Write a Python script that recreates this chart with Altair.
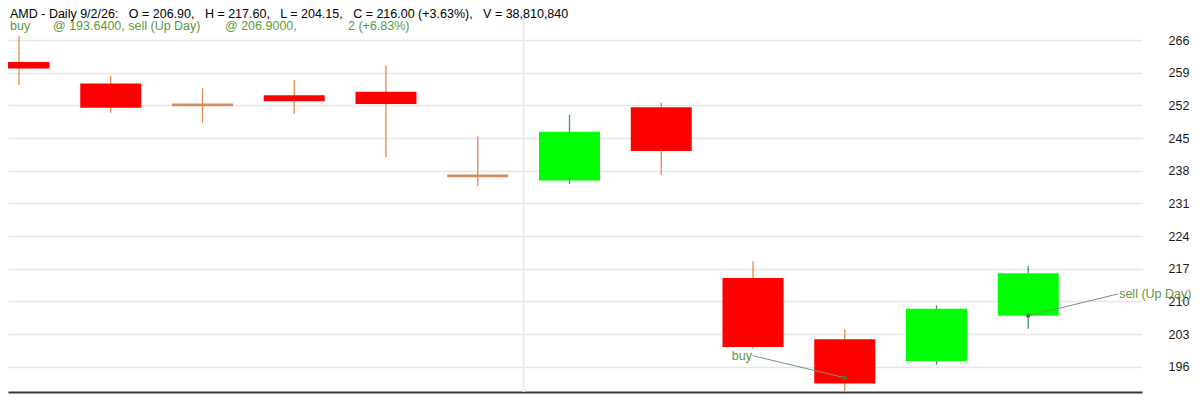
import altair as alt
import pandas as pd

# ---- data ----
days = [0, 1, 2, 3, 4, 5, 6, 7, 8, 9, 10, 11]
opens = [261.3, 256.7, 252.1, 254.15, 254.9, 236.9, 235.9, 251.6, 215.0, 201.9, 197.2, 206.9]
highs = [266.9, 258.4, 255.65, 257.4, 260.6, 245.3, 250.0, 252.6, 218.6, 204.0, 209.15, 217.6]
lows = [256.4, 250.4, 248.15, 250.2, 240.9, 234.7, 235.1, 237.1, 199.9, 190.6, 196.4, 204.15]
closes = [259.9, 251.5, 252.1, 252.9, 252.3, 236.9, 246.35, 242.2, 200.2, 192.4, 208.43, 216.0]

y_ticks = [196, 203, 210, 217, 224, 231, 238, 245, 252, 259, 266]

trade_kinds = ["buy", "sell"]
trade_labels = ["buy", "sell (Up Day)"]
trade_days = [9, 11]
trade_prices = [193.64, 206.9]

session_breaks = [6]

NB = "\u00a0"
gap = " " + NB + NB
header_line1 = ("AMD - Daily 9/2/26:" + gap + "O = 206.90," + gap + "H = 217.60," + gap +
                "L = 204.15," + gap + "C = 216.00 (+3.63%)," + gap + "V = 38,810,840")
header_pieces = ["buy", "@ 193.6400, sell (Up Day)", "@ 206.9000,", "2 (+6.83%)"]

# ---- tables ----
df = pd.DataFrame({"day": days, "open": opens, "high": highs, "low": lows, "close": closes})
trades = pd.DataFrame({"kind": trade_kinds, "label": trade_labels,
                       "day": trade_days, "price": trade_prices})
breaks = pd.DataFrame({"brk": session_breaks})
one = pd.DataFrame({"k": [0]})

FONT = "Liberation Sans"
xscale = alt.Scale(domain=[-0.1199, 12.2398], nice=False, zero=False)
yscale = alt.Scale(domain=[190.576, 272.857], nice=False, zero=False)
xaxis = alt.Axis(title=None, labels=False, ticks=False, grid=False, domain=True,
                 domainColor="#3a3a3a", domainWidth=2)
yaxis = alt.Axis(title=None, orient="right", values=y_ticks, ticks=False, domain=False,
                 grid=True, gridColor="#e6e6e6", gridWidth=1.5, labelPadding=26,
                 labelFontSize=12.5, labelColor="#1a1a1a", labelFont=FONT)


def X(f):
    return alt.X(f"{f}:Q", scale=xscale, axis=xaxis)


def X2(f):
    return alt.X2(f"{f}:Q")


def Y(f):
    return alt.Y(f"{f}:Q", scale=yscale, axis=yaxis)


def Y2(f):
    return alt.Y2(f"{f}:Q")


UP = "datum.close > datum.open"

base = alt.Chart(df).transform_calculate(
    xl="datum.day - 0.3324",
    xr="datum.day + 0.3324",
)

separator = alt.Chart(breaks).transform_calculate(sx="datum.brk - 0.5").mark_rule(
    color="#ececec", strokeWidth=2
).encode(x=X("sx"))

wicks = base.mark_rule(strokeWidth=1.3).encode(
    x=X("day"), y=Y("low"), y2=Y2("high"),
    color=alt.condition(UP, alt.value("#3c9c4c"), alt.value("#e8884a")),
)

bodies = base.transform_filter("datum.close != datum.open").mark_rect(clip=True).encode(
    x=X("xl"), x2=X2("xr"), y=Y("open"), y2=Y2("close"),
    color=alt.condition(UP, alt.value("#00ff00"), alt.value("#ff0000")),
)

dojis = base.transform_filter("datum.close == datum.open").mark_rule(
    color="#d98b5e", strokeWidth=2.7, clip=True
).encode(x=X("xl"), x2=X2("xr"), y=Y("open"))

tbase = alt.Chart(trades).transform_calculate(
    lx="datum.kind == 'buy' ? datum.day - 1.0 : datum.day + 0.98",
    ly="datum.price + 4.7",
)

trade_lines = tbase.mark_rule(color="#6f9a6f", strokeWidth=1).encode(
    x=X("day"), x2=X2("lx"), y=Y("price"), y2=Y2("ly")
)

trade_dots = tbase.mark_point(filled=True, size=18, color="#3e7a3e", opacity=1).encode(
    x=X("day"), y=Y("price")
)

buy_text = tbase.transform_filter("datum.kind == 'buy'").mark_text(
    align="right", baseline="middle", dx=-1, fontSize=12.5, font=FONT, color="#5f9440"
).encode(x=X("lx"), y=Y("ly"), text="label:N")

sell_text = tbase.transform_filter("datum.kind == 'sell'").mark_text(
    align="left", baseline="middle", dx=1, fontSize=12.5, font=FONT, color="#5f9440"
).encode(x=X("lx"), y=Y("ly"), text="label:N")

head1 = alt.Chart(one).mark_text(
    text=header_line1, align="left", baseline="alphabetic", fontSize=12.5, font=FONT,
    color="#000000"
).encode(x=alt.value(2), y=alt.value(9.5))

head_x = [2, 45, 217, 340]
head2 = [
    alt.Chart(one).mark_text(
        text=t, align="left", baseline="alphabetic", fontSize=12.5, font=FONT,
        color="#5a9a3c"
    ).encode(x=alt.value(px), y=alt.value(21.5))
    for t, px in zip(header_pieces, head_x)
]

chart = alt.layer(
    separator, wicks, bodies, dojis, trade_lines, trade_dots, buy_text, sell_text,
    head1, *head2
).properties(
    width=1134, height=384,
    background="white",
    autosize=alt.AutoSizeParams(type="none"),
    padding={"left": 0, "top": 0, "right": 50, "bottom": 2},
).configure_view(strokeWidth=0, stroke="transparent")

chart.save("out.html", embed_options={"renderer": "svg", "actions": False})
